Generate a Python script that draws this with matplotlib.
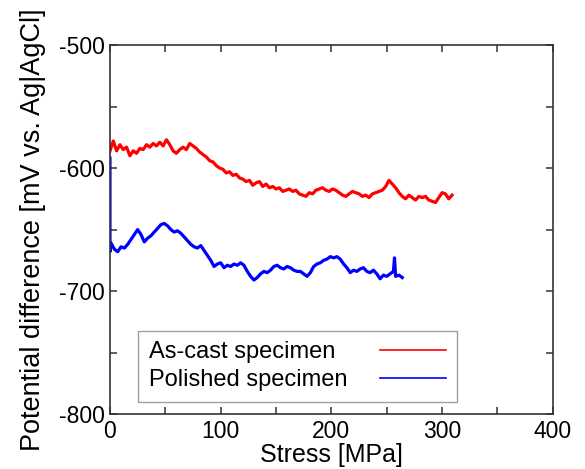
import matplotlib
matplotlib.use('Agg')
import matplotlib.pyplot as plt
from matplotlib.ticker import MultipleLocator

plt.rcParams['font.family'] = ['Liberation Sans', 'DejaVu Sans']
plt.rcParams['axes.unicode_minus'] = False

# As-cast specimen (red)
ascast_stress = [0, 3, 6, 9, 12, 15, 18, 21, 24, 27, 30, 33, 36, 39, 42, 45, 48, 51, 54, 57,
                 60, 63, 66, 69, 72, 75, 78, 81, 84, 87, 90, 93, 96, 99, 102, 105, 108, 111, 114, 117,
                 120, 123, 126, 129, 132, 135, 138, 141, 144, 147, 150, 153, 156, 159, 162, 165, 168, 171, 174, 177,
                 180, 183, 186, 189, 192, 195, 198, 201, 204, 207, 210, 213, 216, 219, 222, 225, 228, 231, 234, 237,
                 240, 243, 246, 249, 252, 255, 258, 261, 264, 267, 270, 273, 276, 279, 282, 285, 288, 291, 294, 297,
                 300, 303, 306, 309]
ascast_pot = [-586, -578, -586, -581, -585, -583, -590, -586, -588, -584, -585, -581, -583, -580, -582, -579, -582, -577, -581, -586,
              -588, -585, -583, -585, -580, -582, -584, -587, -589, -591, -594, -595, -598, -600, -601, -604, -603, -606, -605, -608,
              -609, -611, -610, -614, -612, -611, -615, -613, -616, -615, -617, -616, -619, -618, -617, -619, -618, -621, -622, -623,
              -620, -621, -618, -617, -616, -618, -619, -617, -618, -620, -622, -623, -621, -619, -620, -621, -623, -622, -624, -621,
              -620, -619, -618, -615, -610, -613, -616, -620, -623, -625, -622, -624, -626, -623, -624, -623, -626, -627, -628, -624,
              -620, -621, -625, -622]

# Polished specimen (blue)
polished_stress = [0, 0, 1, 4, 7, 10, 13, 16, 19, 22, 25, 28, 31, 34, 37, 40, 43, 46, 49, 52, 55, 58,
                   61, 64, 67, 70, 73, 76, 79, 82, 85, 88, 91, 94, 97, 100, 103, 106, 109, 112, 115, 118,
                   121, 124, 127, 130, 133, 136, 139, 142, 145, 148, 151, 154, 157, 160, 163, 166, 169, 172, 175, 178,
                   181, 184, 187, 190, 193, 196, 199, 202, 205, 208, 211, 214, 217, 220, 223, 226, 229, 232, 235, 238,
                   241, 244, 247, 250, 253, 256, 257, 258, 261, 264]
polished_pot = [-592, -668, -661, -666, -668, -664, -665, -662, -658, -654, -650, -654, -660, -657, -655, -652, -649, -646, -645, -647, -650, -652,
                -651, -653, -656, -659, -662, -664, -665, -663, -667, -671, -675, -680, -678, -677, -681, -679, -680, -678, -679, -677,
                -679, -684, -688, -691, -689, -686, -684, -685, -683, -680, -679, -681, -682, -680, -681, -683, -684, -684, -686, -688,
                -685, -680, -678, -677, -675, -674, -672, -673, -672, -674, -678, -681, -685, -683, -684, -682, -681, -684, -685, -683,
                -686, -690, -687, -688, -686, -684, -673, -688, -687, -689]

fig = plt.figure(figsize=(5.85, 4.69), dpi=100)
ax = fig.add_axes([0.188, 0.117, 0.757, 0.787])

ax.plot(ascast_stress, ascast_pot, color='#ff0000', lw=2.3, label='As-cast specimen')
ax.plot(polished_stress, polished_pot, color='#0000ff', lw=2.3, label='Polished specimen')

ax.set_xlim(0, 400)
ax.set_ylim(-800, -500)
ax.xaxis.set_major_locator(MultipleLocator(100))
ax.xaxis.set_minor_locator(MultipleLocator(50))
ax.yaxis.set_major_locator(MultipleLocator(100))
ax.yaxis.set_minor_locator(MultipleLocator(50))
ax.tick_params(which='both', direction='in', top=True, right=True, length=5,
               width=1.1, color='#333333', labelsize=16.5, pad=4)

for sp in ax.spines.values():
    sp.set_color('#333333')
    sp.set_linewidth(1.2)

ax.set_xlabel('Stress [MPa]', fontsize=18, labelpad=0)
ax.set_ylabel('Potential difference [mV vs. Ag|AgCl]', fontsize=19.5, labelpad=9)

leg = ax.legend(loc='lower left', bbox_to_anchor=(0.063, 0.033), borderaxespad=0,
                markerfirst=False, fancybox=False, fontsize=17, handlelength=2.8,
                handletextpad=1.4, labelspacing=0.25, borderpad=0.45)
leg.get_frame().set_edgecolor('#888888')
leg.get_frame().set_linewidth(1.0)
for line in leg.get_lines():
    line.set_linewidth(1.2)

# left-align the legend labels while keeping the line samples on the right
fig.canvas.draw()
renderer = fig.canvas.get_renderer()
widths = [t.get_window_extent(renderer).width for t in leg.get_texts()]
dpicor = renderer.points_to_pixels(1.0)
column = leg._legend_handle_box.get_children()[0]
column.align = 'left'
for row, w in zip(column.get_children(), widths):
    row.sep = row.sep + (max(widths) - w) / dpicor

fig.savefig('out.png', dpi=100)
